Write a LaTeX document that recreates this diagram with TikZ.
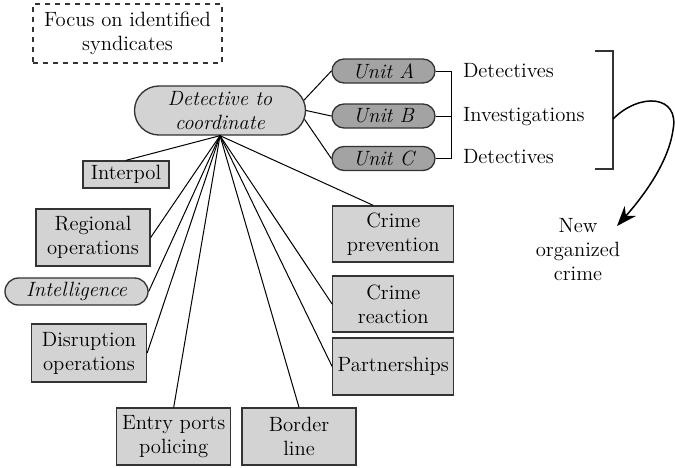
\documentclass[tikz,border=0pt]{standalone}
\usepackage{fontspec}
\usetikzlibrary{arrows.meta,shapes.misc}
\definecolor{boxfill}{HTML}{D3D3D3}
\definecolor{unitfill}{HTML}{A3A3A3}
\definecolor{edge}{HTML}{333333}
\newcommand{\dfont}{\rmfamily\fontsize{12.4}{14.4}\selectfont}
\tikzset{
  gbox/.style={draw=edge,fill=boxfill,line width=0.8pt,align=center,inner sep=0pt,font=\dfont},
  gpill/.style={rounded rectangle,draw=edge,fill=boxfill,line width=0.8pt,align=center,inner sep=0pt,font=\dfont\itshape},
  upill/.style={gpill,fill=unitfill,minimum width=61.8pt,minimum height=14.4pt},
  dbox/.style={draw=edge,dashed,line width=0.7pt,align=center,inner sep=0pt,font=\dfont},
  lbl/.style={align=center,inner sep=1pt,font=\dfont},
  glink/.style={line width=0.6pt,draw=black},
  garr/.style={-{Stealth[length=12pt,width=9pt]},line width=0.9pt}
}

\begin{document}
\begin{tikzpicture}[x=0.6pt,y=-0.6pt]
  \useasboundingbox (0,0) rectangle (675,467);
  % top
  \node[dbox,minimum width=113.4pt,minimum height=35.4pt] (focus) at (127.5,33.5) {Focus on identified\\syndicates};
  \node[gpill,minimum width=102.6pt,minimum height=29.4pt] (det) at (220,110.5) {Detective to\\coordinate};
  % units
  \node[upill] (ua) at (383.5,71) {Unit A};
  \node[upill] (ub) at (383.5,116) {Unit B};
  \node[upill] (uc) at (383.5,158.5) {Unit C};
  \node[lbl,anchor=west] (da) at (461,71) {Detectives};
  \node[lbl,anchor=west] (inv) at (461,117) {Investigations};
  \node[lbl,anchor=west] (dc) at (461,157) {Detectives};
  \node[lbl] (new) at (578,250) {New\\organized\\crime};
  % left side
  \node[gbox,minimum width=51.6pt,minimum height=16.2pt] (interpol) at (126,174.5) {Interpol};
  \node[gbox,minimum width=68.4pt,minimum height=34.2pt] (reg) at (93,237.5) {Regional\\operations};
  \node[gpill,minimum width=85.8pt,minimum height=16.2pt] (intel) at (76.5,291.5) {Intelligence};
  \node[gbox,minimum width=69pt,minimum height=34.8pt] (disr) at (89,353) {Disruption\\operations};
  \node[gbox,minimum width=68.4pt,minimum height=34.2pt] (entry) at (173.7,436.5) {Entry ports\\policing};
  \node[gbox,minimum width=68.4pt,minimum height=34.2pt] (border) at (299,436.5) {Border\\line};
  % right side
  \node[gbox,minimum width=72.6pt,minimum height=33.6pt] (cprev) at (393.3,234) {Crime\\prevention};
  \node[gbox,minimum width=72.6pt,minimum height=33.6pt] (creact) at (393.3,304) {Crime\\reaction};
  \node[gbox,minimum width=72.6pt,minimum height=34.2pt] (partn) at (393.3,366.5) {Partnerships};
  % links
  \foreach \t in {interpol.north,reg.east,intel.east,disr.east,entry.north,border.north,partn.west,creact.west,cprev.125}
    \draw[glink] (det.south) -- (\t);
  \draw[glink] (det.7) -- (ua.west);
  \draw[glink] (det.0) -- (ub.west);
  \draw[glink] (det.-6) -- (uc.west);
  \draw[glink] (ua.east) -- ++(16,0) |- (uc.east);
  \draw[glink] (ub.east) -- ++(16,0);
  % bracket and loop
  \draw[glink,draw=edge,line width=0.8pt] (595,51) -- (613,51) -- (613,169) -- (595,169);
  \coordinate (brk) at (613,119);
  \coordinate (tip) at (617,226);
  \draw[garr] (brk) .. controls (640,92) and (680,95) .. (673,130) .. controls (668,165) and (640,200) .. (tip);
\end{tikzpicture}
\end{document}
